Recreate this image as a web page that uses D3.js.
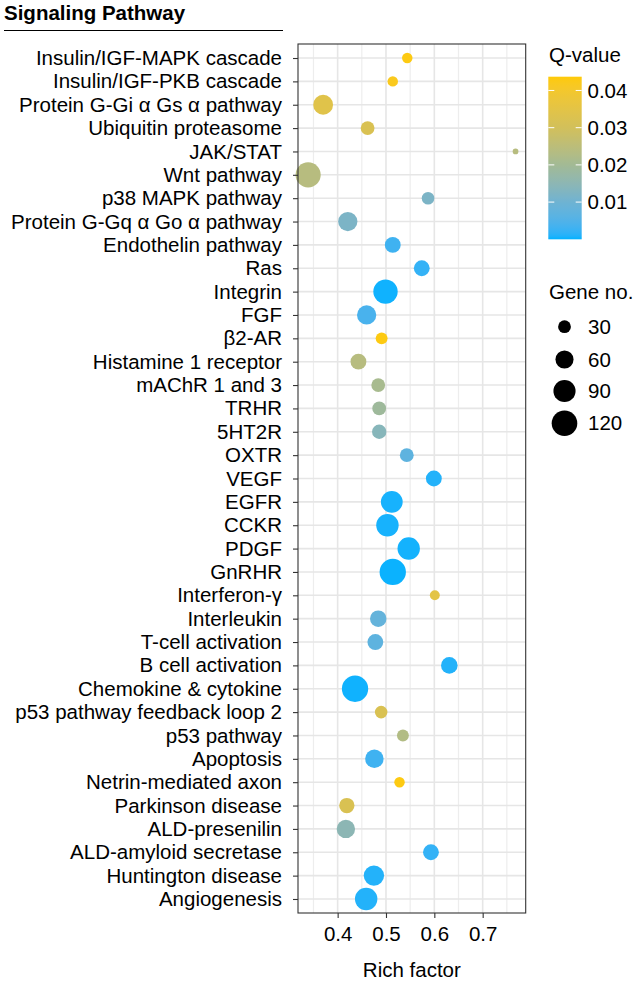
<!DOCTYPE html>
<html>
<head>
<meta charset="utf-8">
<script src="https://cdn.jsdelivr.net/npm/d3@7"></script>
<style>
  html, body { margin: 0; padding: 0; background: #fff; }
  svg text { font-family: "Liberation Sans", Arial, Helvetica, sans-serif; fill: #000; }
</style>
</head>
<body>
<svg id="chart" width="637" height="982"></svg>
<script>
const categories = [
  "Insulin/IGF-MAPK cascade", "Insulin/IGF-PKB cascade", "Protein G-Gi \u03b1 Gs \u03b1 pathway",
  "Ubiquitin proteasome", "JAK/STAT", "Wnt pathway", "p38 MAPK pathway",
  "Protein G-Gq \u03b1 Go \u03b1 pathway", "Endothelin pathway", "Ras", "Integrin", "FGF",
  "\u03b22-AR", "Histamine 1 receptor", "mAChR 1 and 3", "TRHR", "5HT2R", "OXTR", "VEGF",
  "EGFR", "CCKR", "PDGF", "GnRHR", "Interferon-\u03b3", "Interleukin", "T-cell activation",
  "B cell activation", "Chemokine & cytokine", "p53 pathway feedback loop 2", "p53 pathway",
  "Apoptosis", "Netrin-mediated axon", "Parkinson disease", "ALD-presenilin",
  "ALD-amyloid secretase", "Huntington disease", "Angiogenesis"
];
const richFactor = [
  0.544, 0.514, 0.370, 0.462, 0.768, 0.339, 0.587, 0.421, 0.514, 0.574,
  0.499, 0.460, 0.491, 0.443, 0.484, 0.486, 0.486, 0.543, 0.599, 0.512,
  0.503, 0.547, 0.514, 0.601, 0.484, 0.478, 0.631, 0.436, 0.490, 0.535,
  0.476, 0.528, 0.419, 0.417, 0.593, 0.475, 0.459
];
const geneCount = [
  20, 20, 72, 35, 6, 116, 29, 68, 46, 46,
  109, 68, 26, 46, 35, 35, 38, 35, 46, 87,
  92, 92, 127, 18, 50, 46, 50, 127, 29, 26,
  62, 20, 43, 62, 46, 76, 92
];
const qValue = [
  0.043, 0.042, 0.034, 0.032, 0.024, 0.024, 0.012, 0.012, 0.003, 0.002,
  0.0003, 0.004, 0.043, 0.024, 0.021, 0.019, 0.014, 0.007, 0.001, 0.0005,
  0.0005, 0.0004, 0.0002, 0.035, 0.008, 0.007, 0.001, 0.0003, 0.032, 0.023,
  0.003, 0.043, 0.032, 0.015, 0.002, 0.001, 0.001
];
const xTicks = [0.4, 0.5, 0.6, 0.7];
const xMinorTicks = [0.35, 0.45, 0.55, 0.65, 0.75];
const qTicks = [0.01, 0.02, 0.03, 0.04];
const sizeBreaks = [30, 60, 90, 120];
// colour ramp stops (Q-value -> colour)
const qStops = [0, 0.01, 0.02, 0.03, 0.0437];
const qColors = ["#00B2FF", "#6EB3D2", "#A2BA95", "#D2C05A", "#FFCA05"];

const svg = d3.select("#chart");
const FONT = 20.5;

const panel = { left: 298, right: 525.7, top: 44, bottom: 913 };

const x = d3.scaleLinear().domain([0.318, 0.789]).range([panel.left, panel.right]);
const y = d3.scalePoint().domain(categories).range([panel.top, panel.bottom]).padding(0.6);
const r = d3.scaleSqrt().domain([0, 120]).range([0, 12.8]);
const qMin = qStops[0], qMax = qStops[qStops.length - 1];
const color = d3.scaleLinear().domain(qStops).range(qColors).interpolate(d3.interpolateLab);

// Title
svg.append("text").attr("x", 4).attr("y", 20).attr("font-size", 20.5).attr("font-weight", "bold").text("Signaling Pathway");
svg.append("line").attr("x1", 4).attr("x2", 283).attr("y1", 30.5).attr("y2", 30.5).attr("stroke", "#000").attr("stroke-width", 1.2);

// Panel background & grid
svg.append("rect").attr("x", panel.left).attr("y", panel.top)
  .attr("width", panel.right - panel.left).attr("height", panel.bottom - panel.top).attr("fill", "#fff");

const grid = svg.append("g");
grid.selectAll("line.minor").data(xMinorTicks.filter(d => x(d) < panel.right)).join("line")
  .attr("x1", d => x(d)).attr("x2", d => x(d)).attr("y1", panel.top).attr("y2", panel.bottom)
  .attr("stroke", "#EDEDED").attr("stroke-width", 1.2);
grid.selectAll("line.major").data(xTicks).join("line")
  .attr("x1", d => x(d)).attr("x2", d => x(d)).attr("y1", panel.top).attr("y2", panel.bottom)
  .attr("stroke", "#E6E6E6").attr("stroke-width", 1.6);
grid.selectAll("line.h").data(categories).join("line")
  .attr("x1", panel.left).attr("x2", panel.right).attr("y1", d => y(d)).attr("y2", d => y(d))
  .attr("stroke", "#E6E6E6").attr("stroke-width", 1.6);

// Points
const pts = categories.map((c, i) => ({ c, x: richFactor[i], n: geneCount[i], q: qValue[i] }));
svg.append("g").selectAll("circle").data(pts).join("circle")
  .attr("cx", d => x(d.x)).attr("cy", d => y(d.c)).attr("r", d => r(d.n))
  .attr("fill", d => color(d.q));

// Panel border
svg.append("rect").attr("x", panel.left).attr("y", panel.top)
  .attr("width", panel.right - panel.left).attr("height", panel.bottom - panel.top)
  .attr("fill", "none").attr("stroke", "#333").attr("stroke-width", 1.1);

// Y axis
const yAxis = svg.append("g").attr("transform", `translate(${panel.left},0)`)
  .call(d3.axisLeft(y).tickSize(5).tickPadding(11));
yAxis.select(".domain").remove();
yAxis.selectAll(".tick line").attr("stroke", "#333").attr("stroke-width", 1.1);
yAxis.selectAll(".tick text").attr("font-size", FONT).attr("fill", "#000")
  .attr("font-family", '"Liberation Sans", Arial, sans-serif');

// X axis
const xAxis = svg.append("g").attr("transform", `translate(0,${panel.bottom})`)
  .call(d3.axisBottom(x).tickValues(xTicks).tickFormat(d3.format(".1f")).tickSize(5).tickPadding(8));
xAxis.select(".domain").remove();
xAxis.selectAll(".tick line").attr("stroke", "#333").attr("stroke-width", 1.1);
xAxis.selectAll(".tick text").attr("font-size", FONT).attr("fill", "#000")
  .attr("font-family", '"Liberation Sans", Arial, sans-serif');

svg.append("text").attr("x", (panel.left + panel.right) / 2).attr("y", 977)
  .attr("text-anchor", "middle").attr("font-size", FONT).text("Rich factor");

// Color legend
const lg = { x: 548.3, w: 33.4, top: 76.7, bottom: 239.3 };
svg.append("text").attr("x", 549).attr("y", 61.5).attr("font-size", FONT).text("Q-value");
const defs = svg.append("defs");
const grad = defs.append("linearGradient").attr("id", "qgrad")
  .attr("x1", 0).attr("y1", 1).attr("x2", 0).attr("y2", 0);
d3.range(0, 1.0001, 0.02).forEach(t => {
  grad.append("stop").attr("offset", t).attr("stop-color", color(qMin + t * (qMax - qMin)));
});
svg.append("rect").attr("x", lg.x).attr("y", lg.top).attr("width", lg.w).attr("height", lg.bottom - lg.top)
  .attr("fill", "url(#qgrad)");
const qScale = d3.scaleLinear().domain([qMin, qMax]).range([lg.bottom, lg.top]);
const qg = svg.append("g");
qTicks.forEach(t => {
  qg.append("line").attr("x1", lg.x).attr("x2", lg.x + 6).attr("y1", qScale(t)).attr("y2", qScale(t))
    .attr("stroke", "#fff").attr("stroke-width", 1);
  qg.append("line").attr("x1", lg.x + lg.w - 6).attr("x2", lg.x + lg.w).attr("y1", qScale(t)).attr("y2", qScale(t))
    .attr("stroke", "#fff").attr("stroke-width", 1);
  qg.append("text").attr("x", 587.5).attr("y", qScale(t)).attr("dy", "0.35em").attr("font-size", FONT)
    .text(d3.format(".2f")(t));
});

// Size legend
svg.append("text").attr("x", 549).attr("y", 299.3).attr("font-size", FONT).text("Gene no.");
const sizeY = [326.7, 359.5, 391, 423.3];
const sg = svg.append("g");
sizeBreaks.forEach((b, i) => {
  sg.append("circle").attr("cx", 564.5).attr("cy", sizeY[i]).attr("r", r(b)).attr("fill", "#000");
  sg.append("text").attr("x", 588).attr("y", sizeY[i]).attr("dy", "0.35em").attr("font-size", FONT).text(b);
});
</script>
</body>
</html>
